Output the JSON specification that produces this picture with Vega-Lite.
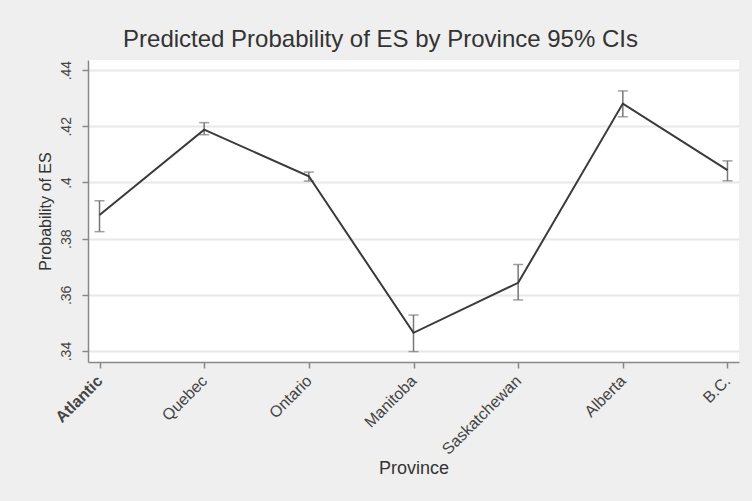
{
  "$schema": "https://vega.github.io/schema/vega-lite/v6.json",
  "width": 651,
  "height": 302,
  "autosize": {"type": "none"},
  "padding": {"left": 88, "top": 60, "right": 13, "bottom": 139},
  "background": "#efefef",
  "config": {
    "view": {"fill": "white", "stroke": null},
    "font": "Liberation Sans"
  },
  "title": {
    "text": "Predicted Probability of ES by Province 95% CIs",
    "fontSize": 24,
    "fontWeight": "normal",
    "color": "#333333",
    "anchor": "middle",
    "dx": -33,
    "offset": 8
  },
  "data": {
    "values": [
      {"province": "Atlantic", "p": 0.3884, "lo": 0.3825, "hi": 0.3935},
      {"province": "Quebec", "p": 0.4188, "lo": 0.4170, "hi": 0.4213},
      {"province": "Ontario", "p": 0.4022, "lo": 0.4005, "hi": 0.4037},
      {"province": "Manitoba", "p": 0.3465, "lo": 0.3398, "hi": 0.3528},
      {"province": "Saskatchewan", "p": 0.3643, "lo": 0.3582, "hi": 0.3708},
      {"province": "Alberta", "p": 0.4281, "lo": 0.4234, "hi": 0.4326},
      {"province": "B.C.", "p": 0.4044, "lo": 0.4006, "hi": 0.4077}
    ]
  },
  "encoding": {
    "x": {
      "field": "province",
      "type": "ordinal",
      "sort": null,
      "scale": {"type": "point", "padding": 0.11},
      "axis": {
        "title": "Province",
        "titleFontSize": 18,
        "titleFontWeight": "normal",
        "titleColor": "#333333",
        "titlePadding": 2,
        "labelAngle": -45,
        "labelAlign": "right",
        "labelBaseline": "middle",
        "labelFontSize": 16,
        "labelColor": "#444444",
        "labelFontWeight": {"condition": {"test": "datum.value === 'Atlantic'", "value": "bold"}, "value": "normal"},
        "labelPadding": 10,
        "labelDx": 5,
        "tickSize": 6,
        "tickColor": "#888888",
        "tickWidth": 1.5,
        "domainColor": "#888888",
        "domainWidth": 1.5,
        "grid": false
      }
    }
  },
  "layer": [
    {
      "mark": {"type": "rule", "color": "#777777", "strokeWidth": 1.5},
      "encoding": {
        "y": {
          "field": "lo",
          "type": "quantitative",
          "scale": {"domain": [0.3361, 0.4436], "nice": false, "zero": false},
          "axis": {
            "title": "Probability of ES",
            "titleFontSize": 16,
            "titleFontWeight": "normal",
            "titleColor": "#333333",
            "titlePadding": 6,
            "values": [0.34, 0.36, 0.38, 0.4, 0.42, 0.44],
            "labelExpr": "replace(format(datum.value, '.2~f'), /^0/, '')",
            "labelAngle": -90,
            "labelAlign": "center",
            "labelBaseline": "bottom",
            "labelFontSize": 14,
            "labelColor": "#444444",
            "labelPadding": 9,
            "tickSize": 6,
            "tickColor": "#888888",
            "tickWidth": 1.5,
            "domainColor": "#888888",
            "domainWidth": 1.5,
            "grid": true,
            "gridColor": "#e8e8e8",
            "gridWidth": 2
          }
        },
        "y2": {"field": "hi"}
      }
    },
    {
      "mark": {"type": "tick", "color": "#777777", "size": 10, "thickness": 1.5},
      "encoding": {
        "y": {"field": "lo", "type": "quantitative", "scale": {"domain": [0.3361, 0.4436], "nice": false, "zero": false}}
      }
    },
    {
      "mark": {"type": "tick", "color": "#777777", "size": 10, "thickness": 1.5},
      "encoding": {
        "y": {"field": "hi", "type": "quantitative", "scale": {"domain": [0.3361, 0.4436], "nice": false, "zero": false}}
      }
    },
    {
      "mark": {"type": "line", "color": "#3a3a3a", "strokeWidth": 2},
      "encoding": {
        "y": {"field": "p", "type": "quantitative", "scale": {"domain": [0.3361, 0.4436], "nice": false, "zero": false}}
      }
    }
  ]
}
